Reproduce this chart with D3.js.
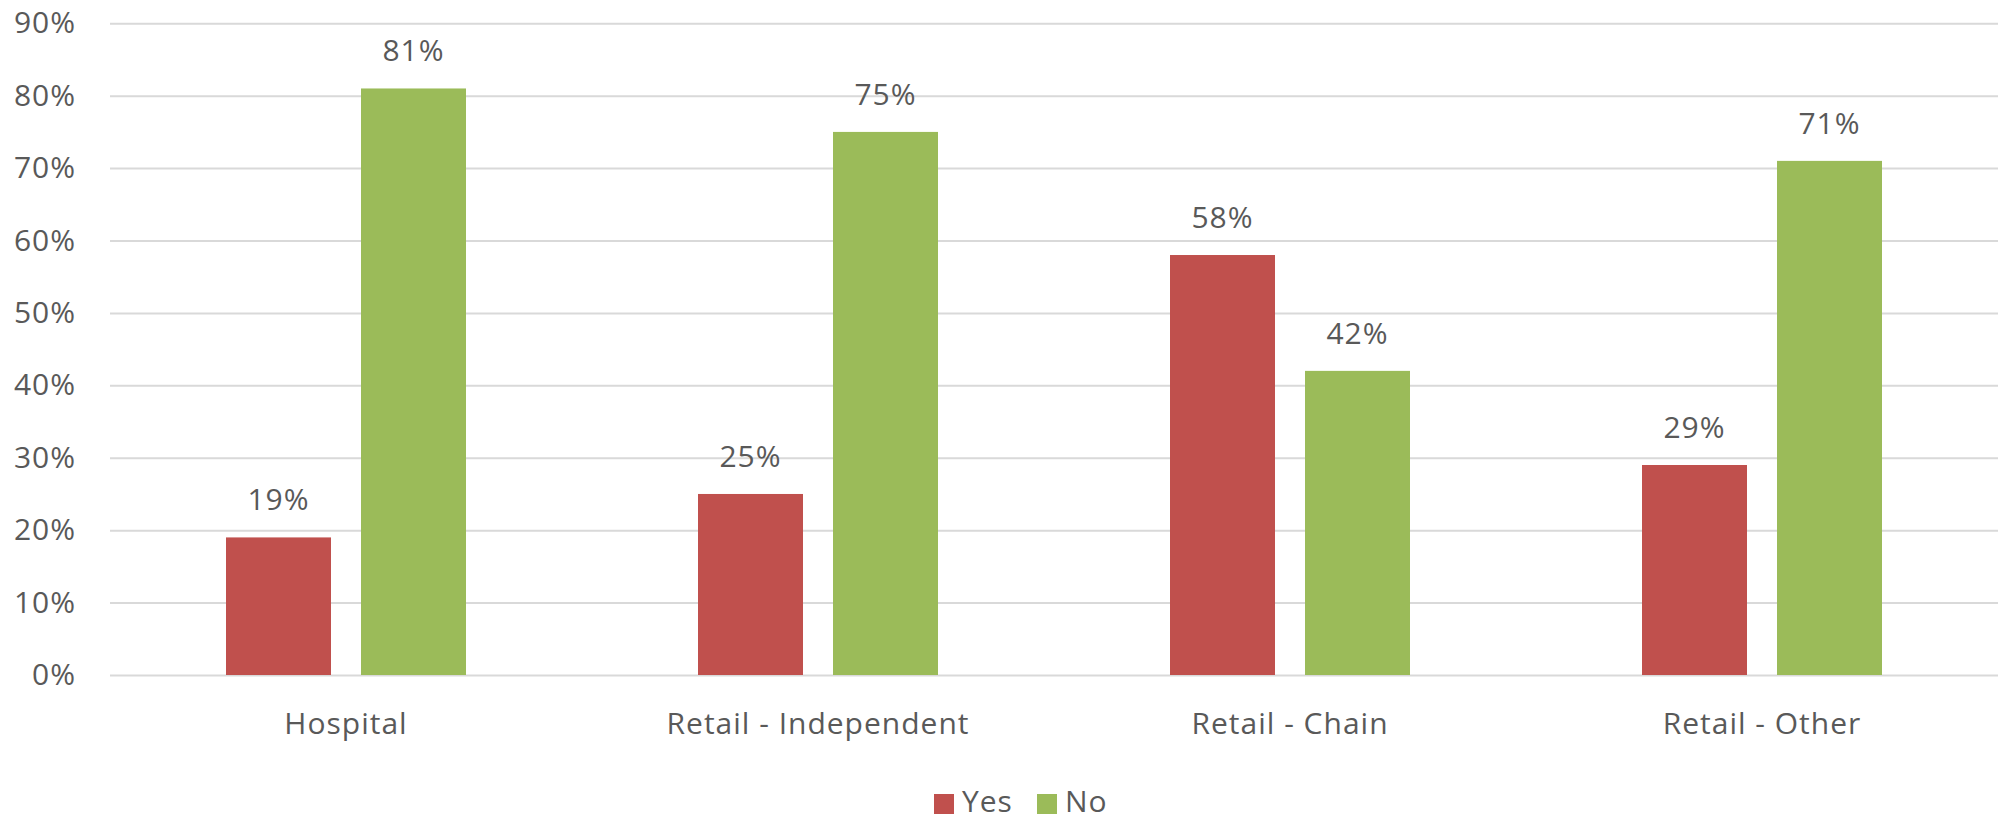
<!DOCTYPE html>
<html>
<head>
<meta charset="utf-8">
<script src="https://cdn.jsdelivr.net/npm/d3@7"></script>
<style>
  html, body { margin: 0; padding: 0; background: #ffffff; }
  svg { display: block; }
  text { font-family: "Open Sans", "Liberation Sans", sans-serif; fill: #595959; letter-spacing: 1px; }
</style>
</head>
<body>
<svg id="chart" width="2011" height="821"></svg>
<script>
// Survey responses by pharmacy setting (percent)
const categories = ["Hospital", "Retail - Independent", "Retail - Chain", "Retail - Other"];
const series = ["Yes", "No"];
const yesValues = [19, 25, 58, 29];
const noValues = [81, 75, 42, 71];
const yTicks = [0, 10, 20, 30, 40, 50, 60, 70, 80, 90];
const colors = { Yes: "#C0504D", No: "#9BBB59" };

const width = 2011, height = 821;
const plot = { left: 110, right: 1998, top: 23.3, bottom: 675 };
const fontSize = 30;

const svg = d3.select("#chart");

const x0 = d3.scaleBand()
  .domain(categories)
  .range([plot.left, plot.right])
  .paddingInner(0)
  .paddingOuter(0);

const groupHalf = 120;
const x1 = d3.scaleBand()
  .domain(series)
  .range([x0.bandwidth() / 2 - groupHalf, x0.bandwidth() / 2 + groupHalf])
  .paddingInner(30 / 135)
  .paddingOuter(0);

const y = d3.scaleLinear()
  .domain([0, 90])
  .range([plot.bottom, plot.top]);

// Horizontal gridlines with percentage labels
const yAxis = d3.axisLeft(y)
  .tickValues(yTicks)
  .tickSize(-(plot.right - plot.left))
  .tickPadding(34)
  .tickFormat(d => d + "%");

const gy = svg.append("g")
  .attr("transform", `translate(${plot.left},0)`)
  .call(yAxis);
gy.select(".domain").remove();
gy.selectAll(".tick line")
  .attr("stroke", "#D9D9D9")
  .attr("stroke-width", 2);
gy.selectAll(".tick text")
  .attr("font-size", fontSize)
  .attr("fill", "#595959")
  .style("font-family", "'Open Sans', 'Liberation Sans', sans-serif");

// Rows of data per category
const rows = categories.map((c, i) => ({
  category: c,
  values: [
    { key: "Yes", value: yesValues[i] },
    { key: "No", value: noValues[i] }
  ]
}));

const groups = svg.append("g")
  .selectAll("g")
  .data(rows)
  .join("g")
  .attr("transform", d => `translate(${x0(d.category)},0)`);

groups.selectAll("rect")
  .data(d => d.values)
  .join("rect")
  .attr("x", d => x1(d.key))
  .attr("y", d => y(d.value))
  .attr("width", x1.bandwidth())
  .attr("height", d => y(0) - y(d.value))
  .attr("fill", d => colors[d.key]);

groups.selectAll("text.value")
  .data(d => d.values)
  .join("text")
  .attr("class", "value")
  .attr("x", d => x1(d.key) + x1.bandwidth() / 2)
  .attr("y", d => y(d.value) - 27)
  .attr("text-anchor", "middle")
  .attr("font-size", fontSize)
  .text(d => d.value + "%");

// Category labels below the baseline
const xAxis = d3.axisBottom(x0).tickSize(0).tickPadding(38);
const gx = svg.append("g")
  .attr("transform", `translate(0,${plot.bottom})`)
  .call(xAxis);
gx.select(".domain").remove();
gx.selectAll(".tick text")
  .attr("font-size", fontSize)
  .attr("fill", "#595959")
  .style("font-family", "'Open Sans', 'Liberation Sans', sans-serif");

// Legend
const legendItems = [
  { key: "Yes", x: 934 },
  { key: "No", x: 1037 }
];
const legend = svg.append("g");
legend.selectAll("rect")
  .data(legendItems)
  .join("rect")
  .attr("x", d => d.x)
  .attr("y", 794)
  .attr("width", 20)
  .attr("height", 20)
  .attr("fill", d => colors[d.key]);
legend.selectAll("text")
  .data(legendItems)
  .join("text")
  .attr("x", d => d.x + 28)
  .attr("y", 812)
  .attr("font-size", fontSize)
  .text(d => d.key);
</script>
</body>
</html>
